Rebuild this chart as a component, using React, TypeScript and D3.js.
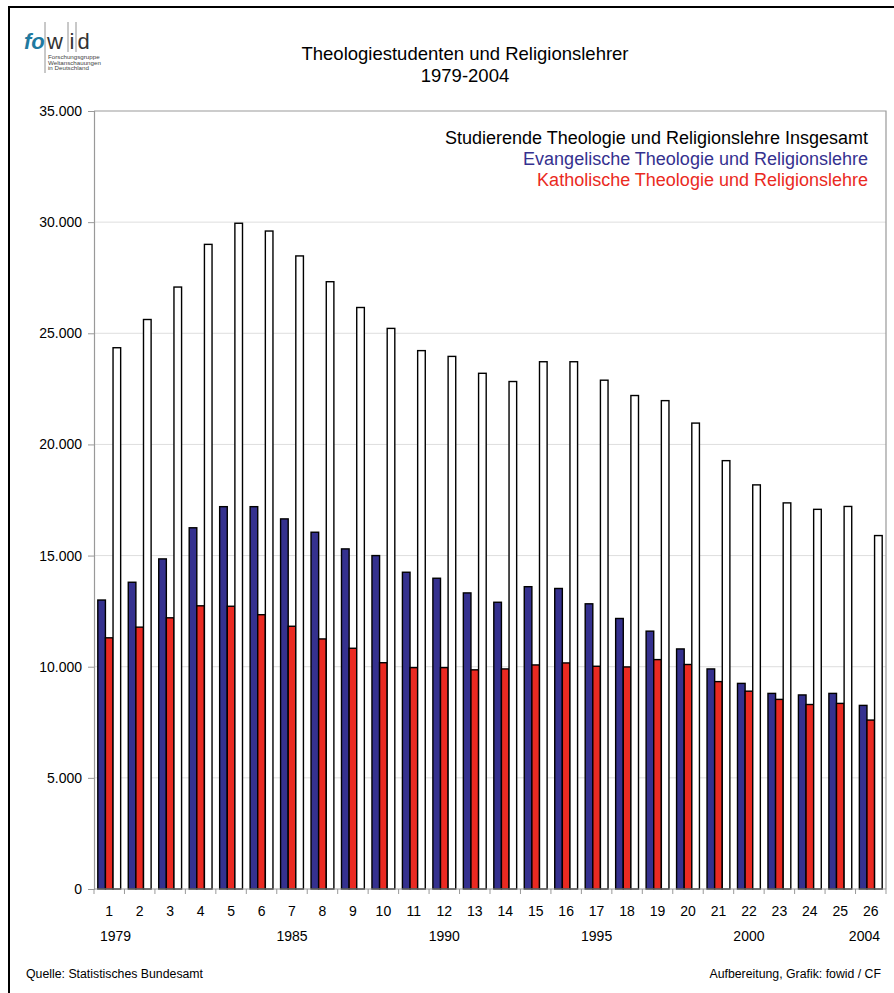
import React, { useEffect, useRef } from 'react';
import * as d3 from 'd3';

// Jahre 1979-2004, laufende Nummer 1..26
const categories = d3.range(1, 27).map(String);
const yearLabels = [
  { cat: '1', label: '1979' },
  { cat: '7', label: '1985' },
  { cat: '12', label: '1990' },
  { cat: '17', label: '1995' },
  { cat: '22', label: '2000' },
  { cat: '26', label: '2004' },
];

const evangelisch = [
  13000, 13800, 14850, 16250, 17200, 17200, 16650, 16050, 15300, 15000,
  14250, 13980, 13320, 12900, 13600, 13520, 12830, 12170, 11600, 10800,
  9900, 9250, 8800, 8730, 8800, 8260,
];
const katholisch = [
  11300, 11780, 12200, 12740, 12720, 12340, 11820, 11250, 10830, 10180,
  9960, 9960, 9860, 9900, 10080, 10170, 10020, 9990, 10320, 10100,
  9330, 8900, 8530, 8300, 8350, 7600,
];
const insgesamt = [
  24350, 25620, 27080, 29000, 29950, 29600, 28480, 27320, 26160, 25220,
  24220, 23960, 23200, 22830, 23720, 23720, 22890, 22200, 21970, 20960,
  19270, 18180, 17370, 17080, 17210, 15900,
];

const seriesNames = [
  'Evangelische Theologie und Religionslehre',
  'Katholische Theologie und Religionslehre',
  'Studierende Theologie und Religionslehre Insgesamt',
];
const seriesColors = ['#35318f', '#ea2a22', '#ffffff'];
const legendOrder = [2, 0, 1];
const legendColors = ['#000000', '#35318f', '#ea2a22'];
const yTicks = [0, 5000, 10000, 15000, 20000, 25000, 30000, 35000];

const FONT = 'Liberation Sans, Arial, sans-serif';

const Chart = () => {
  const ref = useRef<SVGSVGElement>(null);

  useEffect(() => {
    const svg = d3.select(ref.current);
    svg.selectAll('*').remove();

    const width = 894;
    const height = 993;
    const plot = { left: 94, right: 886, top: 111, bottom: 889 };

    svg.append('rect').attr('width', width).attr('height', height).attr('fill', '#fff');
    // äußerer Rahmen
    svg.append('rect')
      .attr('x', 9).attr('y', 7).attr('width', 920).attr('height', 1020)
      .attr('fill', 'none').attr('stroke', '#000').attr('stroke-width', 2);

    // Logo
    const logo = svg.append('g').attr('font-family', FONT);
    logo.append('text').attr('x', 24).attr('y', 49).text('fo')
      .attr('font-size', 22).attr('font-weight', 'bold').attr('font-style', 'italic')
      .attr('fill', '#1f7aa0');
    logo.append('text').attr('x', 47).attr('y', 49).text('w').attr('font-size', 22).attr('fill', '#333');
    logo.append('text').attr('x', 69.5).attr('y', 49).text('i').attr('font-size', 22).attr('fill', '#333');
    logo.append('text').attr('x', 77.5).attr('y', 49).text('d').attr('font-size', 22).attr('fill', '#333');
    [[45, 73], [68, 52], [76, 52]].forEach(([lx, ly]) => {
      logo.append('line').attr('x1', lx).attr('x2', lx).attr('y1', 22).attr('y2', ly)
        .attr('stroke', '#777').attr('stroke-width', 0.8);
    });
    ['Forschungsgruppe', 'Weltanschauungen', 'in Deutschland'].forEach((t, i) => {
      logo.append('text').attr('x', 48).attr('y', 59 + i * 5.6).text(t)
        .attr('font-size', 6.2).attr('fill', '#444');
    });

    // Titel
    svg.append('text').attr('x', 465).attr('y', 60).attr('text-anchor', 'middle')
      .attr('font-family', FONT).attr('font-size', 18.5).text('Theologiestudenten und Religionslehrer');
    svg.append('text').attr('x', 465).attr('y', 82).attr('text-anchor', 'middle')
      .attr('font-family', FONT).attr('font-size', 18.5).text('1979-2004');

    const x0 = d3.scaleBand().domain(categories).range([plot.left, plot.right]).padding(0);
    const x1 = d3.scaleBand().domain(['0', '1', '2'])
      .range([0, x0.bandwidth()]).paddingInner(0).paddingOuter(0.5);
    const y = d3.scaleLinear().domain([0, 35000]).range([plot.bottom, plot.top]);

    // Gitterlinien
    svg.append('g').selectAll('line')
      .data(yTicks.filter(t => t > 0 && t < 35000))
      .join('line')
      .attr('x1', plot.left).attr('x2', plot.right)
      .attr('y1', d => y(d)).attr('y2', d => y(d))
      .attr('stroke', '#dedede').attr('stroke-width', 1);

    // Plotrahmen oben/rechts
    svg.append('path')
      .attr('d', `M${plot.left},${plot.top}H${plot.right}V${plot.bottom}`)
      .attr('fill', 'none').attr('stroke', '#999').attr('stroke-width', 1.2);

    // Balken
    const data = categories.map((c, i) => ({ cat: c, values: [evangelisch[i], katholisch[i], insgesamt[i]] }));
    svg.append('g').selectAll('g')
      .data(data)
      .join('g')
      .attr('transform', d => `translate(${x0(d.cat)},0)`)
      .selectAll('rect')
      .data(d => d.values.map((v, k) => ({ k, v })))
      .join('rect')
      .attr('x', d => x1(String(d.k))!)
      .attr('y', d => y(d.v))
      .attr('width', x1.bandwidth())
      .attr('height', d => y(0) - y(d.v))
      .attr('fill', d => seriesColors[d.k])
      .attr('stroke', '#000').attr('stroke-width', 1.4);

    // y-Achse
    const fmt = (v: number) => (v === 0 ? '0' : d3.format(',')(v).replace(/,/g, '.'));
    const yAxis = svg.append('g')
      .attr('transform', `translate(${plot.left},0)`)
      .call(d3.axisLeft(y).tickValues(yTicks).tickSize(6).tickPadding(6).tickFormat(d => fmt(+d)));
    yAxis.select('.domain').attr('stroke', '#999').attr('stroke-width', 1.2);
    yAxis.selectAll('.tick line').attr('stroke', '#999');
    yAxis.selectAll('.tick text').attr('font-family', FONT).attr('font-size', 14).attr('fill', '#000');

    // x-Achse
    const xAxis = svg.append('g').attr('transform', `translate(0,${plot.bottom})`);
    xAxis.append('line').attr('x1', plot.left).attr('x2', plot.right)
      .attr('stroke', '#999').attr('stroke-width', 1.2);
    xAxis.selectAll('line.tk')
      .data(categories.concat(['end']))
      .join('line').attr('class', 'tk')
      .attr('x1', (d, i) => plot.left + i * x0.step())
      .attr('x2', (d, i) => plot.left + i * x0.step())
      .attr('y1', 0).attr('y2', 5).attr('stroke', '#999');
    xAxis.selectAll('text.num')
      .data(categories)
      .join('text').attr('class', 'num')
      .attr('x', d => x0(d)! + x0.bandwidth() / 2)
      .attr('y', 27).attr('text-anchor', 'middle')
      .attr('font-family', FONT).attr('font-size', 14).text(d => d);
    xAxis.selectAll('text.year')
      .data(yearLabels)
      .join('text').attr('class', 'year')
      .attr('x', (d, i) => i === 0 ? x0(d.cat)! + 6 : i === yearLabels.length - 1 ? x0(d.cat)! + x0.bandwidth() - 6 : x0(d.cat)! + x0.bandwidth() / 2)
      .attr('text-anchor', (d, i) => i === 0 ? 'start' : i === yearLabels.length - 1 ? 'end' : 'middle')
      .attr('y', 52)
      .attr('font-family', FONT).attr('font-size', 14).text(d => d.label);

    // Legende
    svg.append('g').selectAll('text')
      .data(legendOrder)
      .join('text')
      .attr('x', 868).attr('y', (d, i) => 144 + i * 21)
      .attr('text-anchor', 'end')
      .attr('font-family', FONT).attr('font-size', 18)
      .attr('fill', (d, i) => legendColors[i])
      .text(d => seriesNames[d]);

    // Fußzeile
    svg.append('text').attr('x', 26).attr('y', 978)
      .attr('font-family', FONT).attr('font-size', 12.3)
      .text('Quelle: Statistisches Bundesamt');
    svg.append('text').attr('x', 881).attr('y', 978).attr('text-anchor', 'end')
      .attr('font-family', FONT).attr('font-size', 12.3)
      .text('Aufbereitung, Grafik: fowid / CF');
  }, []);

  return (
    <svg ref={ref} width="894" height="993" style={{ position: 'absolute', left: 0, top: 0 }}></svg>
  );
};

export default function App() {
  return <Chart />;
}
